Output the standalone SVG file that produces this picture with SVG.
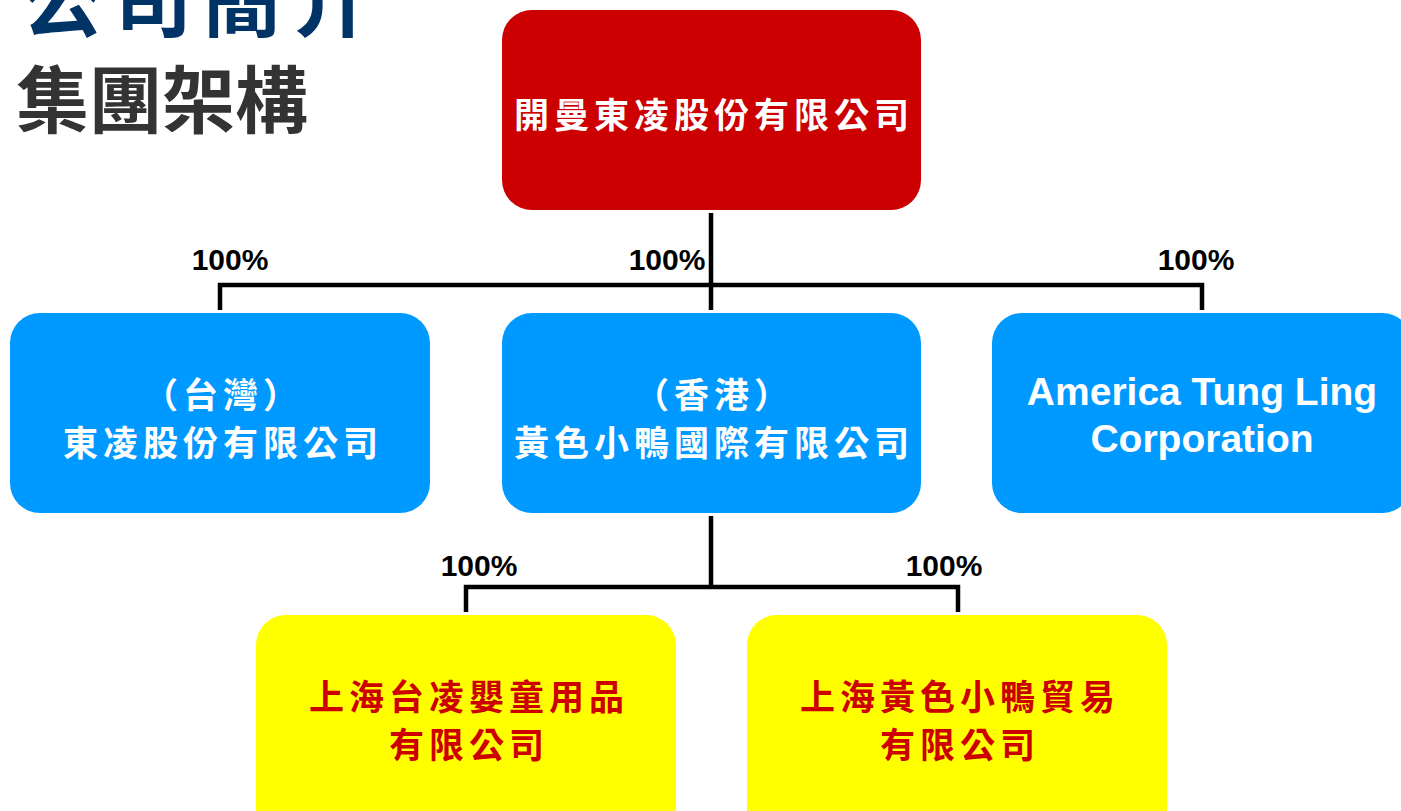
<svg xmlns="http://www.w3.org/2000/svg" width="1401" height="811" viewBox="0 0 1401 811">
<style>
.cjk{font-family:"Noto Sans CJK TC","Noto Sans CJK SC",sans-serif;font-weight:700}
.nt{font-size:35px;letter-spacing:5px;text-anchor:middle}
.w{fill:#FFFFFF}
.r{fill:#CC0000}
.pct{font-family:"Liberation Sans",Arial,sans-serif;font-weight:700;font-size:30px;fill:#000;text-anchor:middle}
.en{font-family:"Liberation Sans",Arial,sans-serif;font-weight:700;font-size:39px;fill:#fff;text-anchor:middle}
.ln{stroke:#000;stroke-width:4.5;fill:none}
</style>
<rect width="1401" height="811" fill="#FFFFFF"/>
<g id="title">
<text class="cjk" x="22" y="30" font-size="80" letter-spacing="10" fill="#003366">公司簡介</text>
<text class="cjk" x="16" y="127" font-size="73" fill="#333333">集團架構</text>
</g>
<g id="connectors">
<path class="ln" d="M711 213 V310 M220 310 V285 H1202 V310"/>
<path class="ln" d="M711 516 V587 M466 612 V587 H958 V612"/>
<text class="pct" x="230" y="270">100%</text>
<text class="pct" x="667" y="270">100%</text>
<text class="pct" x="1196" y="270">100%</text>
<text class="pct" x="479" y="576">100%</text>
<text class="pct" x="944" y="576">100%</text>
</g>
<g id="parent">
<rect x="502" y="10" width="419" height="200" rx="30" fill="#CC0000"/>
<text class="cjk nt w" x="714" y="128">開曼東凌股份有限公司</text>
</g>
<g id="taiwan">
<rect x="10" y="313" width="420" height="200" rx="30" fill="#0099FF"/>
<text class="cjk nt w" x="223" y="408">（台灣）</text>
<text class="cjk nt w" x="223" y="456">東凌股份有限公司</text>
</g>
<g id="hongkong">
<rect x="502" y="313" width="419" height="200" rx="30" fill="#0099FF"/>
<text class="cjk nt w" x="714" y="408">（香港）</text>
<text class="cjk nt w" x="714" y="456">黃色小鴨國際有限公司</text>
</g>
<g id="america">
<rect x="992" y="313" width="420" height="200" rx="30" fill="#0099FF"/>
<text class="en" x="1202" y="405">America Tung Ling</text>
<text class="en" x="1202" y="452">Corporation</text>
</g>
<g id="shanghai1">
<rect x="256" y="615" width="420" height="230" rx="30" fill="#FFFF00"/>
<text class="cjk nt r" x="469" y="710">上海台凌嬰童用品</text>
<text class="cjk nt r" x="469" y="758">有限公司</text>
</g>
<g id="shanghai2">
<rect x="747" y="615" width="420" height="230" rx="30" fill="#FFFF00"/>
<text class="cjk nt r" x="960" y="710">上海黃色小鴨貿易</text>
<text class="cjk nt r" x="960" y="758">有限公司</text>
</g>
</svg>
